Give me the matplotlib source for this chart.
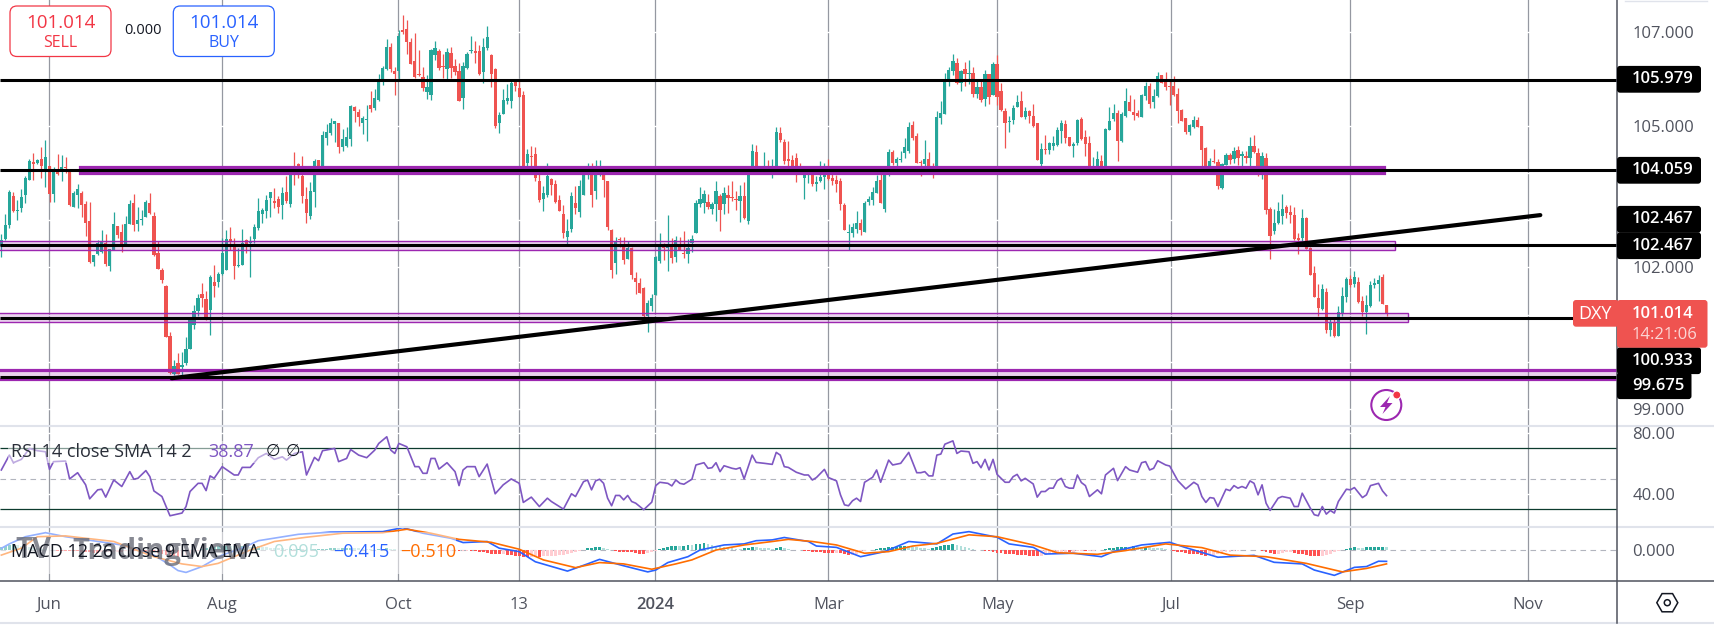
import numpy as np
from matplotlib import pyplot as plt
from matplotlib.colors import to_rgba
from matplotlib.patches import Rectangle, FancyBboxPatch, Circle, Polygon, RegularPolygon

plt.rcParams['font.family'] = ['Open Sans', 'DejaVu Sans']

# daily candles
high = [102.71,103.13,103.64,103.61,103.42,103.66,103.93,104.31,104.42,104.31,
104.56,104.70,104.15,104.14,104.41,104.38,104.35,104.03,103.62,103.77,
103.63,103.40,103.39,102.26,102.58,102.79,102.71,102.39,103.18,102.88,
102.93,103.09,103.44,103.56,103.29,103.22,103.42,103.58,103.18,102.57,
101.99,101.63,100.63,100.04,100.18,100.21,100.53,100.92,101.21,101.44,
101.66,101.49,101.85,102.05,101.91,102.62,102.79,102.86,102.62,102.41,
102.81,102.60,102.67,102.92,103.47,103.27,103.54,103.61,103.68,103.51,
103.71,103.93,104.10,104.45,104.22,104.36,103.71,103.82,104.30,104.28,
104.90,105.04,105.17,105.11,105.06,104.93,104.98,105.45,105.42,105.36,
105.21,105.45,105.74,105.78,106.10,106.27,106.84,106.76,106.25,107.04,
107.35,107.25,106.87,106.97,106.61,106.25,106.08,106.63,106.80,106.63,
106.53,106.65,106.68,106.42,106.34,106.36,106.57,106.91,106.80,106.72,
106.87,107.12,106.53,106.23,105.30,105.78,105.89,105.95,105.98,105.95,
105.74,104.51,104.58,104.55,104.07,103.73,104.21,103.90,103.85,103.54,
103.32,103.03,103.60,103.73,103.85,104.13,104.22,104.21,104.28,104.28,
104.11,103.83,102.81,102.65,102.65,102.65,102.56,102.43,101.90,101.78,
101.58,101.31,101.44,102.24,102.73,102.52,103.11,102.62,102.67,102.65,
102.77,102.60,102.69,103.43,103.71,103.64,103.56,103.39,103.83,103.56,
103.71,103.75,103.83,103.62,103.75,103.81,104.07,104.62,104.60,104.14,
104.45,104.28,104.30,104.98,104.98,104.72,104.68,104.38,104.43,104.21,
104.11,104.14,104.07,103.94,104.26,104.21,104.30,104.00,103.97,103.90,
103.37,102.92,102.94,103.20,103.03,103.41,103.51,103.71,103.96,104.11,
104.14,104.51,104.49,104.34,104.47,104.75,105.08,105.10,104.85,104.28,
104.70,104.45,104.21,105.32,105.53,106.12,106.25,106.53,106.44,106.19,
106.36,106.40,106.25,105.95,105.98,106.19,106.10,106.36,106.51,105.91,
105.38,105.21,105.45,105.66,105.74,105.40,105.34,105.47,105.06,104.64,
104.81,104.66,104.79,104.98,105.13,105.13,104.77,104.66,105.15,105.19,
104.91,104.79,104.34,104.47,104.38,104.96,105.40,105.47,105.34,105.30,
105.81,105.66,105.57,105.34,105.68,105.93,105.91,105.78,106.14,106.08,
106.14,105.99,106.06,105.81,105.36,105.17,105.04,105.21,105.19,105.00,
104.55,104.32,104.51,104.30,104.22,104.43,104.43,104.55,104.58,104.47,
104.47,104.77,104.81,104.53,104.45,104.43,103.28,103.24,103.39,103.56,
103.32,103.32,103.28,102.73,103.24,103.07,102.43,102.03,101.65,101.65,
101.56,100.93,100.91,101.18,101.58,101.80,101.84,101.92,101.80,101.39,
101.41,101.71,101.78,101.84,101.86,101.20]

low = [102.23,102.58,102.83,103.18,103.01,103.18,103.37,103.85,103.85,104.19,
103.90,103.71,103.39,103.39,103.96,103.83,104.00,103.30,103.29,103.27,
103.08,102.67,102.10,102.02,102.26,102.30,102.03,101.93,102.37,102.62,
102.33,102.50,102.93,102.78,102.78,102.90,103.06,103.13,102.24,101.97,
101.68,100.53,99.75,99.72,99.74,99.68,99.93,100.27,100.69,100.98,
101.17,100.88,100.57,101.38,101.59,101.84,101.95,102.37,101.75,102.00,
102.05,102.31,101.80,102.51,102.79,102.94,103.04,103.08,103.25,103.16,
103.03,103.36,103.29,103.75,103.89,103.37,102.95,103.03,103.29,104.08,
104.14,104.60,104.81,104.67,104.43,104.46,104.55,104.58,105.08,105.00,
104.83,104.68,105.30,105.34,105.54,105.87,106.19,106.15,105.66,105.99,
106.95,106.53,106.31,106.02,106.06,105.74,105.58,105.55,106.40,106.19,
106.02,106.00,106.02,106.08,105.53,105.36,106.20,106.54,106.34,106.08,
105.92,106.61,105.83,104.96,104.85,105.25,105.47,105.38,105.74,105.61,
104.07,104.07,104.07,103.83,103.39,103.20,103.49,103.54,103.37,103.20,
102.62,102.50,102.75,103.13,103.07,103.54,103.88,103.28,103.45,103.94,
103.49,102.79,101.78,101.86,102.44,102.07,102.18,101.75,101.44,101.45,
100.88,100.63,101.08,101.41,102.09,102.16,101.92,102.09,102.11,102.36,
102.19,102.09,102.33,102.73,103.28,103.15,103.24,103.13,102.98,102.78,
103.13,103.15,103.41,103.22,102.96,103.03,102.92,104.07,104.00,104.07,
104.07,104.07,103.90,104.07,104.66,104.19,104.15,104.00,103.81,104.00,
103.45,103.79,103.73,103.62,103.81,103.66,103.85,103.75,103.60,103.22,
102.79,102.37,102.65,102.73,102.69,102.75,103.32,103.32,103.58,103.37,
103.18,103.94,104.17,104.07,104.24,104.32,104.43,104.70,104.21,103.93,
104.14,104.07,103.90,104.07,105.04,105.25,105.85,106.08,105.89,105.74,
105.85,105.89,105.61,105.59,105.51,105.42,105.47,105.66,105.45,105.32,
104.53,104.87,105.04,105.40,105.19,105.15,105.06,104.98,104.28,104.09,
104.41,104.41,104.49,104.58,104.64,104.64,104.58,104.34,104.60,104.70,
104.36,104.07,104.07,104.07,104.07,104.07,104.91,105.11,104.26,104.66,
105.19,105.32,105.13,105.19,105.19,105.55,105.38,105.38,105.61,105.91,
105.76,105.45,105.64,105.06,105.11,104.83,104.81,104.96,104.98,104.10,
104.07,104.07,104.21,103.66,103.66,104.17,104.19,104.21,104.17,104.08,
104.21,104.15,104.43,103.94,103.88,103.13,102.18,102.71,102.92,102.92,
103.05,102.94,102.58,102.28,102.51,102.39,101.84,101.37,100.97,101.10,
100.61,100.55,100.52,100.55,100.97,101.27,101.58,101.58,101.25,100.97,
100.59,101.16,101.56,101.29,101.22,100.97]

open_ = [102.45,102.60,102.90,103.51,103.20,103.27,103.54,103.86,104.24,104.22,
104.30,104.07,104.15,103.56,104.03,104.02,104.12,104.03,103.29,103.54,
103.58,103.35,102.98,102.12,102.28,102.33,102.51,102.04,102.37,102.88,
102.75,102.50,102.93,103.37,102.92,103.00,103.07,103.37,103.09,102.31,
101.95,101.61,100.55,99.74,99.97,99.89,99.98,100.27,100.78,101.07,
101.43,101.33,101.10,101.69,101.69,101.86,101.95,102.60,102.43,102.02,
102.05,102.58,102.51,102.60,102.84,103.13,103.20,103.47,103.41,103.45,
103.32,103.60,103.35,104.11,104.20,103.94,103.45,103.09,103.60,104.28,
104.14,104.75,104.85,105.04,105.06,104.55,104.58,104.72,105.40,105.30,
105.06,105.12,105.45,105.38,105.55,105.93,106.21,106.68,106.17,106.17,
107.04,107.06,106.78,106.38,106.10,106.04,105.72,105.66,106.51,106.59,
106.27,106.21,106.55,106.27,106.17,105.59,106.23,106.60,106.59,106.59,
106.15,106.65,106.51,106.21,105.06,105.25,105.53,105.53,105.93,105.81,
105.66,104.21,104.36,104.41,103.83,103.45,103.54,103.87,103.77,103.43,
103.13,102.65,102.81,103.37,103.18,103.54,103.96,104.14,103.62,104.00,
103.97,103.83,102.79,102.09,102.60,102.43,102.18,102.41,101.78,101.67,
101.56,100.97,101.18,101.41,102.14,102.43,102.42,102.43,102.22,102.43,
102.31,102.28,102.51,102.73,103.35,103.37,103.39,103.24,103.35,103.51,
103.35,103.54,103.49,103.45,103.41,103.51,102.98,104.07,104.45,104.12,
104.08,104.12,104.08,104.14,104.85,104.66,104.30,104.28,104.32,104.14,
103.90,104.05,104.00,103.77,103.83,103.92,104.00,103.90,103.85,103.83,
103.32,102.74,102.73,102.81,102.94,102.75,103.39,103.43,103.58,103.85,
103.24,104.07,104.45,104.21,104.28,104.43,104.47,105.02,104.79,104.24,
104.19,104.30,104.14,104.10,105.17,105.25,105.98,106.17,106.34,105.91,
106.21,106.11,106.12,105.68,105.83,105.57,106.10,105.66,106.31,105.74,
105.32,105.09,105.13,105.40,105.53,105.19,105.32,105.21,105.06,104.19,
104.50,104.49,104.58,104.60,104.89,105.04,104.77,104.58,104.64,105.15,
104.77,104.64,104.07,104.07,104.26,104.07,104.91,105.15,105.28,104.68,
105.21,105.51,105.30,105.28,105.19,105.64,105.85,105.51,105.64,106.08,
105.93,105.84,105.85,105.68,105.34,105.17,104.87,104.98,105.13,105.00,
104.53,104.07,104.26,104.24,103.68,104.17,104.38,104.30,104.49,104.36,
104.36,104.32,104.58,104.43,104.07,104.32,103.24,102.77,102.94,103.09,
103.28,103.18,103.11,102.62,102.62,103.05,102.41,101.88,101.35,101.12,
101.48,100.67,100.82,100.55,101.01,101.37,101.75,101.65,101.69,101.29,
101.05,101.18,101.63,101.65,101.80,101.20]

close = [102.58,102.90,103.60,103.20,103.21,103.49,103.90,104.26,104.20,104.28,
104.15,104.34,103.56,104.05,103.98,104.12,104.11,103.32,103.58,103.66,
103.32,102.95,102.11,102.26,102.51,102.57,102.07,102.39,102.92,102.69,
102.50,102.92,103.35,102.90,103.01,103.01,103.39,103.15,102.26,101.97,
101.73,100.53,99.77,99.92,99.75,99.94,100.28,100.88,101.07,101.35,
101.35,100.90,101.80,101.61,101.86,102.31,102.60,102.53,102.02,102.05,
102.51,102.50,102.53,102.85,103.20,103.22,103.44,103.59,103.37,103.29,
103.58,103.41,104.00,104.08,104.10,103.51,103.16,103.62,104.26,104.15,
104.81,104.87,105.06,105.11,104.55,104.72,104.77,105.42,105.32,105.19,
105.17,105.13,105.36,105.59,106.00,106.23,106.68,106.21,106.10,106.91,
106.99,106.78,106.31,106.04,106.08,105.81,105.83,106.61,106.65,106.23,
106.26,106.57,106.23,106.15,105.53,106.27,106.53,106.61,106.55,106.10,
106.68,106.89,106.10,105.00,105.23,105.55,105.59,105.91,105.85,105.61,
104.07,104.41,104.35,103.90,103.43,103.58,103.94,103.75,103.39,103.20,
102.73,102.77,103.51,103.26,103.73,103.96,104.07,103.54,104.00,104.11,
103.85,102.86,101.95,102.56,102.58,102.16,102.41,101.84,101.69,101.46,
100.97,101.25,101.35,102.22,102.43,102.41,102.43,102.20,102.58,102.37,
102.28,102.41,102.60,103.37,103.45,103.56,103.28,103.35,103.62,103.22,
103.58,103.47,103.47,103.44,103.51,103.05,104.07,104.47,104.07,104.08,
104.14,104.08,104.15,104.87,104.70,104.26,104.26,104.07,104.07,104.08,
104.00,104.07,103.77,103.81,103.92,104.00,103.88,103.83,103.77,103.35,
102.79,102.75,102.86,102.94,102.79,103.37,103.45,103.60,103.83,103.37,
104.07,104.45,104.21,104.30,104.30,104.55,104.98,104.75,104.21,104.21,
104.30,104.15,104.07,105.19,105.28,105.98,106.19,106.38,105.91,106.17,
106.10,106.12,105.68,105.83,105.55,106.10,105.61,106.31,105.61,105.34,
105.06,105.10,105.38,105.51,105.19,105.32,105.21,105.00,104.28,104.51,
104.49,104.64,104.64,104.91,105.06,104.75,104.58,104.62,105.13,104.72,
104.62,104.07,104.10,104.30,104.07,104.94,105.11,105.28,104.68,105.25,
105.53,105.32,105.23,105.21,105.66,105.85,105.47,105.64,106.06,105.91,
105.83,105.83,105.66,105.32,105.11,104.87,105.02,105.13,104.98,104.49,
104.07,104.26,104.24,103.73,104.19,104.38,104.28,104.47,104.32,104.41,
104.32,104.58,104.45,104.09,104.36,103.22,102.67,102.94,103.20,103.24,
103.15,103.11,102.60,102.58,103.05,102.39,101.84,101.37,101.14,101.54,
100.67,100.84,100.55,101.05,101.39,101.75,101.63,101.80,101.27,101.05,
101.20,101.63,101.67,101.73,101.22,101.014]

# horizontal levels and zones
level_prices = [105.979, 104.059, 102.467, 100.933, 99.675]
zone_low = [104.00, 102.36, 100.85, 99.63]
zone_high = [104.14, 102.57, 101.03, 99.82]
zone_start = [19.6, -5, -5, -5]
zone_end = [344.4, 347.2, 350.3, 410]
trend_bars = [42.43, 383.3]
trend_prices = [99.65, 103.11]

# RSI vertices
rsi_bars = [0,2,3,5,7,9,11,12,13,16,17,19,21,22,24,25,26,28,30,32,33,34,36,37,38,40,42,45,46,47,
49,50,51,52,53,55,58,59,60,62,64,66,68,70,71,73,75,76,78,79,80,83,84,86,87,89,91,93,94,96,
97,98,99,101,103,104,105,106,107,108,109,111,113,114,115,116,118,119,121,123,125,127,129,130,132,134,136,137,140,142,
143,145,146,147,148,149,150,151,152,153,154,155,156,157,158,160,162,163,164,166,167,168,169,170,172,173,175,176,177,178,
179,180,182,183,184,185,187,188,190,192,193,194,195,196,198,200,201,202,203,205,206,208,209,210,211,212,213,214,215,217,
218,219,221,222,224,226,228,229,230,231,232,233,234,235,237,238,239,241,242,243,244,245,246,247,248,250,251,252,253,254,
255,257,258,259,260,261,262,263,264,265,266,267,268,269,270,271,273,274,275,277,278,280,281,283,284,285,286,287,288,290,
291,293,295,297,298,299,300,301,302,303,305,306,307,308,309,310,311,312,313,314,315,316,318,319,321,322,323,324,326,327,
328,329,330,331,332,333,335,336,337,339,340,341,343,344,345]
rsi_vals = [55.8,65.6,60.6,62.8,70,68.5,67.8,56.2,61.3,61.7,49.9,54.0,46.0,36.8,42.7,43.1,37.9,49.2,44.9,54.7,49.7,50.3,55.4,51.4,42.0,38.3,25.6,27.4,31.7,41.6,
47.0,47.0,42.2,51.9,50.3,58.0,52.5,52.5,57.5,57.5,63.9,66.7,62.8,64.5,62.3,66.7,67.8,52.5,64.1,61.9,68.5,70,61.3,63.4,69.3,65.6,63.9,68.9,73.3,77.7,
68.9,66.7,73.3,71.1,58.0,58.0,53.6,53.6,63.4,63.4,56.4,60.6,54.7,45.5,55.8,58.0,58.0,51.4,59.7,40.1,46.0,49.9,47.0,34.4,37.9,31.7,37.2,35.0,30.0,40.1,
38.3,48.1,49.2,42.7,48.6,49.7,47,37.2,32.2,39,39,36.1,39,35,33.9,29.6,34.6,45.5,47.7,47,45.3,49.2,47,46.4,49.7,59.1,60.6,56.9,57.3,60.6,
54.7,58.6,56.9,56.4,57.3,49.9,65.6,60.8,60.2,59.5,67.4,65.6,58,57.5,54.3,52.5,52.5,49.2,50.8,56.2,50.8,48.6,39.4,32.8,32.2,35.5,37.2,35,47.7,51,
55.8,47.7,62.3,59.1,60.2,67.4,54,54,54.7,51.9,51.9,65.6,66.3,72.8,75,66.7,68.3,67.8,60.2,61.3,57.3,62.8,55.8,62.8,52.9,47.7,47.7,51.4,52.9,48.6,
50.3,46.6,37.9,41.6,41.6,43.8,43.8,48.8,50.3,44.9,43.8,43.8,52.5,47.5,45.5,38.3,42.7,40.1,52.5,56.9,48.8,58,55.8,54.3,60.6,61.3,55.8,56.9,61.9,59.1,
58.4,48.8,43.3,47.7,46,38.3,34.4,37.6,37.2,31.7,43.1,42.2,45.5,43.8,44.9,43.8,48.6,47,39.4,46,33.9,29.1,37.2,38.3,37.2,31.7,31.7,40.5,30.7,26.3,
25.6,31.7,26.7,29.1,27.4,35,43.1,42.7,44.2,37.6,39.4,45.5,47,42,38.87]

# MACD and signal vertices
macd_bars = [0,2,6,11,16,30,38,42,44,46,50,55,60,64,74,82,95,100,105,112,115,121,124,129,133,141,146,149,
155,161,163,166,171,174,180,185,188,192,195,201,203,208,214,220,226,233,237,241,248,251,257,260,267,274,277,284,291,295,
303,312,317,324,327,332,337,340,343,345]
macd_vals = [.075,.24,.51,.66,.51,.20,-.18,-.55,-.76,-.83,-.61,-.18,.08,.36,.60,.68,.70,.85,.64,.45,.29,.33,.08,-.05,-.43,-.78,-.51,-.34,
-.58,-.81,-.74,-.46,-.24,.01,.20,.24,.36,.39,.48,.33,.16,.11,-.24,-.05,.33,.24,.61,.70,.49,.24,.11,-.14,-.11,-.24,-.05,.20,.30,.10,
-.26,-.19,-.45,-.51,-.74,-.94,-.64,-.61,-.41,-.415]
signal_bars = [0,5,9,16,28,38,45,50,54,62,68,76,85,95,101,107,114,122,129,135,143,149,
155,162,168,172,178,185,192,196,202,208,215,221,227,233,241,248,257,263,273,280,290,299,306,315,325,334,340,345]
signal_vals = [-.18,.08,.51,.54,.33,-.24,-.51,-.61,-.49,.01,.33,.49,.64,.66,.79,.64,.41,.30,.04,-.36,-.65,-.46,
-.51,-.71,-.51,-.36,.01,.20,.33,.41,.33,.20,-.11,-.05,.16,.26,.58,.51,.20,-.09,-.15,-.01,.24,.10,-.18,-.24,-.49,-.81,-.68,-.51]
hist = [.14,.18,.20,.22,.20,.17,.14,.12,.10,.08,
.06,.05,.03,.01,-.01,-.02,-.03,-.03,-.03,-.04,
-.05,-.06,-.08,-.09,-.09,-.08,-.08,-.07,-.06,-.05,
-.05,-.04,-.03,-.03,-.03,-.03,-.03,-.05,-.07,-.10,
-.13,-.17,-.21,-.23,-.24,-.22,-.18,-.12,-.06,-.01,
.04,.08,.12,.13,.15,.17,.18,.17,.15,.14,
.15,.14,.13,.14,.15,.14,.12,.10,.09,.08,
.07,.06,.06,.05,.06,.05,.03,.03,.04,.05,
.06,.06,.07,.08,.07,.07,.08,.09,.08,.07,
.06,.05,.04,.03,.04,.05,.07,.06,.04,.03,
.03,.02,.01,.01,.02,.03,.02,.01,0,-.01,
-.03,-.04,-.03,-.03,-.04,-.03,-.02,-.03,-.04,-.05,
-.07,-.10,-.13,-.14,-.15,-.13,-.16,-.19,-.21,-.23,
-.25,-.26,-.25,-.24,-.24,-.23,-.22,-.21,-.20,-.19,
-.17,-.14,-.10,-.06,-.02,.02,.08,.10,.11,.12,
.10,.06,.01,-.04,-.05,-.06,-.07,-.08,-.10,-.12,
-.13,-.11,-.06,-.01,.06,.10,.13,.15,.17,.16,
.17,.20,.19,.22,.25,.26,.24,.20,.17,.15,
.12,.10,.08,.06,.05,.07,.10,.12,.11,.09,
.08,.07,.06,.09,.12,.08,.05,.02,0,0,
-.01,-.04,-.06,-.07,-.08,-.09,-.10,-.11,-.10,-.11,
-.15,-.17,-.16,-.12,-.08,-.03,0,.03,.05,.07,
.09,.11,.13,.14,.15,.16,.15,.13,.11,.10,
.07,.06,.08,.12,.17,.20,.21,.23,.19,.16,
.14,.10,.06,.03,0,-.01,-.03,-.05,-.09,-.11,
-.13,-.13,-.15,-.16,-.17,-.18,-.20,-.21,-.21,-.20,
-.18,-.15,-.12,-.10,-.08,-.07,-.07,-.05,-.04,-.03,
-.03,-.02,-.01,0,.02,.05,.08,.09,.11,.12,
.14,.13,.15,.14,.11,.13,.11,.09,.08,.07,
.05,.03,-.02,-.05,-.08,-.10,-.12,-.13,-.15,-.17,
-.20,-.18,-.16,-.13,-.10,-.08,-.06,-.04,-.02,0,
.02,.03,.02,.01,-.01,-.05,-.10,-.13,-.12,-.10,
-.08,-.07,-.09,-.12,-.15,-.17,-.20,-.22,-.23,-.21,
-.18,-.14,-.08,-.04,.02,.06,.10,.11,.09,.08,
.11,.12,.13,.14,.14,.11]

# axis labels
tick_bars = [11.95, 55.04, 98.87, 129.0, 162.9, 206.0, 248.1, 291.2, 336.0, 380.2]
tick_names = ['Jun', 'Aug', 'Oct', '13', '2024', 'Mar', 'May', 'Jul', 'Sep', 'Nov']
price_ticks = [107, 105, 102, 99]
price_tick_names = ['107.000', '105.000', '102.000', '99.000']
round_prices = [107, 106, 105, 104, 103, 102, 101, 100, 99]
level_tags = ['105.979', '104.059', '102.467', '102.467', '100.933', '99.675']

UP = '#26a69a'
DOWN = '#ef5350'
PURPLE = '#9c27b0'
GRID = '#9598a1'
AXIS = '#50535e'
SEP = '#e0e3eb'
W, H = 1714, 627
AXIS_X = 1617
XLIM = (-0.331, 402.4)


def panel_axes(top, bottom):
    ax = fig.add_axes([0, 1 - bottom / H, AXIS_X / W, (bottom - top) / H])
    for s in ax.spines.values():
        s.set_visible(False)
    ax.set_xlim(*XLIM)
    ax.set_xticks(tick_bars)
    ax.set_xticklabels([])
    ax.tick_params(length=0, labelsize=12, labelcolor=AXIS, pad=11)
    ax.yaxis.tick_right()
    ax.grid(axis='x', color=GRID, lw=0.9, zorder=0.5)
    ax.set_axisbelow(True)
    return ax


fig = plt.figure(figsize=(W / 100, H / 100), dpi=100)

# candle panel
ax = panel_axes(0, 426)
ax.set_ylim(98.637, 107.672)
ax.set_yticks(price_ticks, price_tick_names)
ax.hlines(round_prices, *XLIM, color='white', lw=1.0, zorder=1)

bars = np.arange(len(close))
o, c = np.array(open_), np.array(close)
colors = np.where(c >= o, UP, DOWN)
ax.vlines(bars, low, high, colors=colors, lw=0.9, zorder=3)
ax.bar(bars, np.maximum(np.abs(c - o), 0.02), bottom=np.minimum(o, c), width=0.8, color=colors, zorder=3)

for i in range(len(zone_low)):
    lw = 2.3 if i in (0, 3) else 1.0
    ax.add_patch(Rectangle((zone_start[i], zone_low[i]), zone_end[i] - zone_start[i], zone_high[i] - zone_low[i],
                           facecolor=to_rgba(PURPLE, 0.2), edgecolor=PURPLE, lw=lw, zorder=4))
ax.hlines(level_prices, *XLIM, color='black', lw=2.2, zorder=5)
ax.plot(trend_bars, trend_prices, color='black', lw=3.0, solid_capstyle='round', zorder=6)

# RSI panel
ax_rsi = panel_axes(426, 526.7)
ax_rsi.set_ylim(18.4, 84.8)
ax_rsi.set_yticks([80, 40], ['80.00', '40.00'])
ax_rsi.hlines([80, 40], *XLIM, color='white', lw=1.0, zorder=1)
ax_rsi.hlines([70, 30], *XLIM, color='#0c3b2e', lw=0.9, zorder=2)
ax_rsi.hlines(50, *XLIM, color='#b2b5be', lw=0.8, linestyles=(0, (5, 4)), zorder=2)
ax_rsi.plot(rsi_bars, rsi_vals, color='#7e57c2', lw=1.2, zorder=3)

# MACD panel
ax_macd = panel_axes(526.7, 581.3)
ax_macd.set_ylim(-1.1625, 0.885)
ax_macd.set_yticks([0], ['0.000'])
ax_macd.hlines(0, *XLIM, color='#b2b5be', lw=0.8, linestyles=(0, (5, 4)), zorder=1)
h = np.array(hist)
prev = np.r_[h[0], h[:-1]]
hist_colors = np.where(h >= 0, np.where(h >= prev, UP, '#b2dfdb'), np.where(h <= prev, '#ff5252', '#ffcdd2'))
ax_macd.bar(np.arange(len(h)), h, width=0.7, color=hist_colors, zorder=2)
ax_macd.plot(macd_bars, macd_vals, color='#2962ff', lw=1.2, zorder=3)
ax_macd.plot(signal_bars, signal_vals, color='#ff6d00', lw=1.2, zorder=4)
ax_macd.set_xticklabels(tick_names)
for lab in ax_macd.get_xticklabels():
    if lab.get_text() == '2024':
        lab.set_fontweight('semibold')

# everything that sits on top, in figure pixels
top = fig.add_axes([0, 0, 1, 1], zorder=10)
top.set_xlim(0, W)
top.set_ylim(H, 0)
top.axis('off')

top.plot([0, W], [581.3, 581.3], color=AXIS, lw=1.1)
top.plot([AXIS_X, AXIS_X], [0, 623], color=AXIS, lw=1.1)
for y in (426, 526.7, 623.3):
    top.plot([0, W], [y, y], color=SEP, lw=1.5, zorder=1)
top.plot([1625, 1707], [0.6, 0.6], color=SEP, lw=1)

# order buttons
for x0, col, name in [(10, '#f23645', 'SELL'), (173.3, '#2962ff', 'BUY')]:
    top.add_patch(FancyBboxPatch((x0, 6), 101, 50.5, boxstyle='round,pad=0,rounding_size=7',
                                 facecolor='white', edgecolor=col, lw=0.9, zorder=5))
    top.text(x0 + 50.5, 22.7, '101.014', color=col, fontsize=13.5, ha='center', va='center', zorder=6)
    top.text(x0 + 50.5, 42.7, name, color=col, fontsize=11.5, ha='center', va='center', zorder=6)
top.text(142.7, 30.7, '0.000', color='#131722', fontsize=10.5, ha='center', va='center')

# level tags down the price axis
tag_y = [79.3, 170.3, 219.3, 245.7, 360.7, 385.7]
tag_w = [84, 84, 84, 84, 84, 74.5]
for y, w, name in zip(tag_y, tag_w, level_tags):
    top.add_patch(FancyBboxPatch((AXIS_X, y - 13.4), w, 26.8, boxstyle='round,pad=0,rounding_size=3',
                                 facecolor='black', edgecolor='none', zorder=5))
    top.text(1632, y, name, color='white', fontsize=12, fontweight='semibold', ha='left', va='center', zorder=6)

# last price tag
top.add_patch(FancyBboxPatch((1573, 300), 46, 26.7, boxstyle='round,pad=0,rounding_size=3',
                             facecolor=DOWN, edgecolor='none', zorder=7))
top.add_patch(FancyBboxPatch((AXIS_X, 300), 90.5, 47.7, boxstyle='round,pad=0,rounding_size=3',
                             facecolor=DOWN, edgecolor='none', zorder=7))
top.text(1595, 314, 'DXY', color='white', fontsize=13, ha='center', va='center', zorder=8)
top.text(1632, 314, '101.014', color='white', fontsize=12, fontweight='semibold', ha='left', va='center', zorder=8)
top.text(1632, 335, '14:21:06', color='#fbd5d4', fontsize=12, ha='left', va='center', zorder=8)

# alert icon
top.add_patch(Circle((1386.3, 405), 15, facecolor='white', edgecolor=PURPLE, lw=1.5, zorder=5))
top.add_patch(Polygon([(1390, 396), (1380, 407), (1385.5, 407), (1382.5, 414), (1392.5, 403), (1387, 403)],
                      closed=True, facecolor=PURPLE, edgecolor='none', zorder=6))
top.add_patch(Circle((1396.8, 395), 4, facecolor='#f23645', edgecolor='white', lw=0.8, zorder=7))

# chart settings icon
top.add_patch(RegularPolygon((1667.3, 602.7), 6, radius=10.5, orientation=np.pi / 2,
                             facecolor='none', edgecolor='#131722', lw=1.1))
top.add_patch(Circle((1667.3, 602.7), 3, facecolor='none', edgecolor='#131722', lw=1.1))

# study legends
top.add_patch(Rectangle((8, 441), 292, 22, facecolor='white', alpha=0.5, edgecolor='none', zorder=2))
top.text(11.5, 451.7, 'RSI 14 close SMA 14 2', color='#2a2e39', fontsize=13, ha='left', va='center', zorder=3)
top.text(208.6, 451.7, '38.87', color='#7e57c2', fontsize=13, ha='left', va='center', zorder=3)
top.text(266, 451.7, '∅', color='#131722', fontsize=12, ha='left', va='center', zorder=3)
top.text(286, 451.7, '∅', color='#131722', fontsize=12, ha='left', va='center', zorder=3)

top.add_patch(Rectangle((0, 532), 456, 42, facecolor='white', alpha=0.5, edgecolor='none', zorder=2))
top.text(15, 551, 'TV', color='#6a6d78', fontsize=21, fontweight='bold', ha='left', va='center', alpha=0.8, zorder=3)
top.text(72.7, 551, 'TradingView', color='#6a6d78', fontsize=21, fontweight='bold', ha='left', va='center', alpha=0.8, zorder=3)
top.text(10.7, 551.7, 'MACD 12 26 close 9 EMA EMA', color='#131722', fontsize=13, ha='left', va='center', zorder=4)
top.text(273, 551.7, '0.095', color='#b2dfdb', fontsize=13, ha='left', va='center', zorder=4)
top.text(333, 551.7, '−0.415', color='#2962ff', fontsize=13, ha='left', va='center', zorder=4)
top.text(400, 551.7, '−0.510', color='#ff6d00', fontsize=13, ha='left', va='center', zorder=4)

fig.savefig('out.png', dpi=100, facecolor='white')
